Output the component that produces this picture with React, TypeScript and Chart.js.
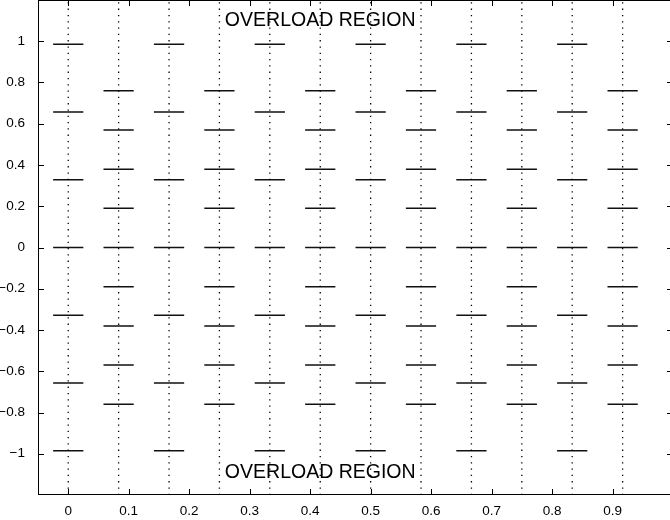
import React, { useEffect, useRef } from "react";
import { Chart, registerables } from "chart.js";

Chart.register(...registerables);

// ---- data ----
const columnX = [0, 0.0833, 0.1667, 0.25, 0.3333, 0.4167, 0.5, 0.5833, 0.6667, 0.75, 0.8333, 0.9167];
const evenLevels = [-0.985, -0.657, -0.328, 0, 0.328, 0.657, 0.985];
const oddLevels = [-0.76, -0.57, -0.38, -0.19, 0, 0.19, 0.38, 0.57, 0.76];
const xTicks = [0, 0.1, 0.2, 0.3, 0.4, 0.5, 0.6, 0.7, 0.8, 0.9, 1];
const yTicks = [-1, -0.8, -0.6, -0.4, -0.2, 0, 0.2, 0.4, 0.6, 0.8, 1];
const regionLabels = ["OVERLOAD REGION", "OVERLOAD REGION"];
const regionLabelX = [0.259, 0.259];
const regionLabelY = [1.1, -1.09];

const X_MIN = -0.05;
const X_MAX = 1.0;
const Y_MIN = -1.2;
const Y_MAX = 1.2;
const SEG_HALF = 0.025;

const fmt = (v: number) => {
  const s = String(Math.round(v * 1000) / 1000);
  return s.replace("-", "\u2212");
};

const framePlugin = {
  id: "frame",
  afterDraw(chart: any) {
    const { ctx, chartArea: a, scales } = chart;
    const x = scales.x;
    const y = scales.y;
    ctx.save();
    ctx.strokeStyle = "#000";
    ctx.lineWidth = 1;
    ctx.strokeRect(a.left + 0.5, a.top + 0.5, a.right - a.left - 1, a.bottom - a.top - 1);
    const L = 6;
    ctx.beginPath();
    xTicks.forEach((v) => {
      const px = Math.round(x.getPixelForValue(v)) + 0.5;
      ctx.moveTo(px, a.bottom);
      ctx.lineTo(px, a.bottom - L);
      ctx.moveTo(px, a.top);
      ctx.lineTo(px, a.top + L);
    });
    yTicks.forEach((v) => {
      const py = Math.round(y.getPixelForValue(v)) + 0.5;
      ctx.moveTo(a.left, py);
      ctx.lineTo(a.left + L, py);
      ctx.moveTo(a.right, py);
      ctx.lineTo(a.right - L, py);
    });
    ctx.stroke();
    ctx.fillStyle = "#000";
    ctx.font = '19.5px "Liberation Sans", Arial, sans-serif';
    ctx.textAlign = "left";
    ctx.textBaseline = "middle";
    regionLabels.forEach((t, i) => {
      ctx.fillText(t, x.getPixelForValue(regionLabelX[i]), y.getPixelForValue(regionLabelY[i]));
    });
    ctx.restore();
  },
};

export default function App() {
  const ref = useRef<HTMLCanvasElement | null>(null);

  useEffect(() => {
    document.body.style.margin = "0";
    const datasets: any[] = [];
    columnX.forEach((cx) => {
      datasets.push({
        data: [
          { x: cx, y: Y_MIN },
          { x: cx, y: Y_MAX },
        ],
        borderColor: "#000",
        borderWidth: 1.3,
        borderDash: [1.3, 5],
        pointRadius: 0,
        fill: false,
      });
    });
    columnX.forEach((cx, i) => {
      const levels = i % 2 === 0 ? evenLevels : oddLevels;
      const pts: any[] = [];
      levels.forEach((l) => {
        pts.push({ x: cx - SEG_HALF, y: l }, { x: cx + SEG_HALF, y: l }, { x: cx, y: null });
      });
      datasets.push({
        data: pts,
        borderColor: "#111",
        borderWidth: 1.5,
        pointRadius: 0,
        spanGaps: false,
        fill: false,
      });
    });

    const fixPad = (s: any) => {
      s.paddingTop = 0;
      s.paddingBottom = 0;
      s.paddingLeft = 0;
      s.paddingRight = 0;
    };

    const chart = new Chart(ref.current as HTMLCanvasElement, {
      type: "line",
      data: { datasets },
      options: {
        animation: false,
        responsive: false,
        events: [],
        layout: { padding: { left: 0, top: 0, right: 27, bottom: 0 } },
        plugins: { legend: { display: false }, tooltip: { enabled: false } },
        scales: {
          x: {
            type: "linear",
            min: X_MIN,
            max: X_MAX,
            afterBuildTicks: (s: any) => {
              s.ticks = xTicks.map((v) => ({ value: v }));
            },
            afterFit: (s: any) => {
              s.height = 25;
              fixPad(s);
            },
            grid: { display: false },
            border: { display: false },
            ticks: {
              color: "#000",
              padding: 0,
              maxRotation: 0,
              autoSkip: false,
              font: { family: '"Liberation Sans", Arial, sans-serif', size: 13.5 },
              callback: (v: any) => fmt(Number(v)),
            },
          },
          y: {
            type: "linear",
            min: Y_MIN,
            max: Y_MAX,
            afterBuildTicks: (s: any) => {
              s.ticks = yTicks.map((v) => ({ value: v }));
            },
            afterFit: (s: any) => {
              s.width = 38;
              fixPad(s);
            },
            grid: { display: false },
            border: { display: false },
            ticks: {
              color: "#000",
              padding: 5,
              autoSkip: false,
              font: { family: '"Liberation Sans", Arial, sans-serif', size: 13.5 },
              callback: (v: any) => fmt(Number(v)),
            },
          },
        },
      },
      plugins: [framePlugin],
    });
    return () => chart.destroy();
  }, []);

  return (
    <div style={{ position: "fixed", left: 0, top: 0, width: 670, height: 520, overflow: "hidden", background: "#fff" }}>
      <canvas ref={ref} width={700} height={520} style={{ display: "block", width: 700, height: 520 }} />
    </div>
  );
}
